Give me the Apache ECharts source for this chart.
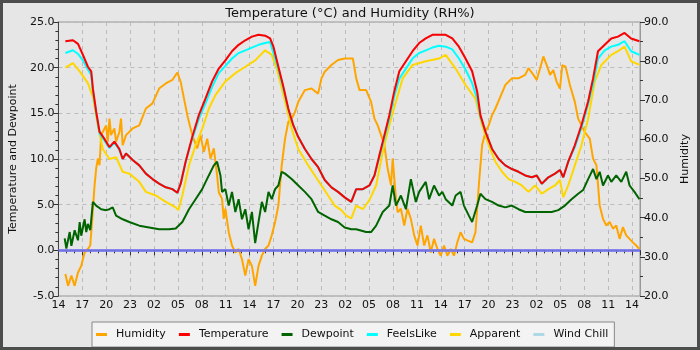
<!DOCTYPE html>
<html><head><meta charset="utf-8">
<script src="https://cdn.jsdelivr.net/npm/echarts@6/dist/echarts.min.js"></script>
<style>html,body{margin:0;padding:0;background:#e6e6e6;}#c{width:700px;height:350px;}</style>
</head><body><div id="c"></div>
<script>
// hours since 14:00 on day 1
const tempHours = [0.88,1.83,2.46,3.08,3.70,4.12,4.33,4.74,5.16,5.78,
6.41,7.03,7.65,8.07,8.49,9.32,10.15,10.98,11.81,12.64,
13.48,14.31,14.93,15.35,15.97,16.80,17.63,18.46,19.30,20.13,
20.96,21.79,22.62,23.46,24.29,25.12,25.95,26.57,26.99,27.61,
28.24,28.86,29.48,30.11,30.94,31.77,32.60,33.43,34.27,35.10,
35.93,36.76,37.38,38.21,39.04,39.67,40.29,40.92,41.54,42.16,
42.79,43.62,44.45,45.28,46.11,46.94,47.78,48.61,49.44,50.27,
51.10,51.93,52.56,52.97,53.60,54.43,55.26,56.09,56.92,57.75,
58.59,59.42,60.04,60.67,61.50,62.33,62.95,63.37,63.99,64.82,
65.65,66.49,67.11,67.73,68.57,69.40,70.23,71.06,71.89,72.93];
const temperature = [22.9,23.0,22.6,21.4,20.1,19.6,17.7,15.2,13.0,12.2,
11.3,11.9,11.1,10.0,10.6,9.9,9.3,8.4,7.8,7.3,
6.9,6.7,6.3,7.3,9.7,12.4,14.8,16.6,18.5,19.9,
20.8,21.8,22.5,23.0,23.4,23.6,23.5,23.2,22.3,20.1,
17.9,15.5,13.7,12.4,11.1,10.0,9.1,7.7,6.9,6.4,
5.8,5.3,6.7,6.7,7.1,8.2,10.4,12.6,14.8,17.4,
19.6,20.7,21.8,22.7,23.2,23.6,23.6,23.6,23.2,22.3,
21.0,19.6,17.4,14.8,13.0,11.1,10.0,9.3,8.9,8.6,
8.2,8.0,8.2,7.3,8.0,8.4,8.8,8.0,9.7,11.5,
13.7,16.3,18.8,21.8,22.5,23.2,23.4,23.8,23.2,22.9];
const feelsLike = [21.6,21.9,21.5,20.8,19.8,19.2,17.4,15.0,12.8,12.0,
11.2,11.8,11.0,10.0,10.6,9.9,9.3,8.4,7.8,7.3,
6.9,6.7,6.3,7.3,9.7,12.2,14.4,16.1,17.9,19.4,
20.2,21.0,21.6,21.9,22.2,22.5,22.7,22.8,21.6,19.8,
17.7,15.4,13.7,12.4,11.1,10.0,9.1,7.7,6.9,6.4,
5.8,5.3,6.7,6.7,7.1,8.2,10.2,12.3,14.4,16.9,
18.8,19.9,21.0,21.6,21.9,22.2,22.4,22.3,22.0,21.0,
19.8,18.3,16.6,14.6,13.0,11.1,10.0,9.3,8.9,8.6,
8.2,8.0,8.2,7.3,8.0,8.4,8.8,8.0,9.7,11.3,
13.4,16.0,18.2,21.0,21.9,22.3,22.5,22.9,21.8,21.4];
const windChill = temperature.slice();

const appHours = [0.88,1.83,2.67,3.70,4.33,4.95,5.57,6.41,7.24,8.07,
8.90,10.15,10.98,12.23,13.48,14.72,15.06,15.56,16.39,17.22,
18.05,18.88,19.71,20.96,22.21,23.46,24.70,25.95,26.78,27.41,
28.45,29.28,30.11,31.36,32.19,33.02,33.85,34.68,35.51,36.13,
36.76,37.38,38.21,39.04,39.88,40.71,41.54,42.37,43.20,44.45,
46.11,47.78,48.61,49.86,51.10,52.35,53.18,54.01,54.85,55.68,
56.51,57.34,58.17,59.00,59.83,60.67,61.50,62.33,62.95,63.37,
63.99,64.82,65.65,66.49,67.32,68.15,69.40,70.23,71.06,71.89,72.93];
const apparent = [20.0,20.5,19.6,18.3,16.8,13.7,11.1,10.0,10.2,8.6,
8.4,7.5,6.4,6.0,5.3,4.7,4.4,6.0,9.3,11.5,
13.3,15.5,17.0,18.5,19.4,20.1,20.8,21.9,21.4,19.9,
16.3,13.3,11.1,9.3,8.2,7.1,6.0,4.9,4.4,3.8,
3.5,4.9,4.5,5.5,7.1,10.8,13.7,16.3,18.8,20.3,
20.7,21.0,21.4,19.9,18.1,16.6,13.7,11.5,9.7,8.6,
7.8,7.5,7.1,6.4,7.1,6.2,6.7,7.1,7.7,5.8,
7.1,9.3,11.5,14.4,18.5,20.3,21.4,21.8,22.3,20.7,20.3];

const dewHours = [0.79,1.00,1.42,1.63,2.04,2.46,2.67,2.87,3.29,3.50,
3.70,4.00,4.33,4.74,5.37,5.99,6.41,6.82,7.24,8.07,
8.90,10.15,11.40,12.64,13.89,14.72,15.56,16.39,17.22,18.05,
18.88,19.51,19.92,20.34,20.54,20.96,21.38,21.79,22.21,22.62,
23.04,23.46,23.87,24.29,24.70,25.12,25.54,25.95,26.37,26.78,
27.20,27.61,28.03,28.45,29.28,30.11,30.94,31.77,32.60,33.43,
34.27,35.10,35.93,36.76,37.38,38.63,39.25,39.88,40.71,41.54,
41.96,42.37,42.99,43.62,44.24,44.86,45.28,46.11,46.53,47.15,
47.78,48.19,48.61,49.44,49.86,50.48,50.90,51.52,51.93,52.56,
52.97,53.60,54.43,55.26,56.09,56.92,57.75,58.59,59.42,60.25,
61.08,61.91,62.74,63.58,64.41,65.24,65.86,66.49,67.11,67.53,
67.94,68.36,68.98,69.40,70.02,70.65,71.27,71.69,72.31,72.93];
const dewpoint = [1.3,0.2,2.0,0.5,2.2,1.1,3.1,1.6,3.4,2.0,
2.9,2.2,5.3,4.9,4.5,4.4,4.5,4.7,3.8,3.4,
3.1,2.7,2.5,2.3,2.3,2.4,3.1,4.5,5.6,6.7,
8.2,9.3,9.7,8.2,6.4,6.7,4.9,6.4,4.2,5.6,
3.4,4.5,2.3,4.2,0.8,3.1,5.3,4.2,6.4,5.6,
6.7,7.1,8.6,8.4,7.8,7.1,6.4,5.6,4.2,3.8,
3.4,3.1,2.5,2.3,2.3,2.0,2.0,2.7,4.2,4.9,
7.1,4.9,6.0,4.5,7.8,5.3,6.4,7.5,5.6,7.1,
6.0,6.4,5.6,4.9,6.0,6.4,4.9,3.8,3.1,4.9,
6.2,5.6,5.3,4.9,4.7,4.9,4.5,4.2,4.2,4.2,
4.2,4.2,4.4,4.9,5.6,6.2,6.6,7.8,8.9,7.8,
8.6,7.1,8.2,7.5,8.2,7.5,8.6,7.1,6.4,5.6];

const humHours = [0.88,1.21,1.63,2.04,2.46,2.87,3.29,3.70,4.00,4.25,
4.54,4.74,4.95,5.16,5.37,5.57,5.99,6.20,6.41,6.61,
7.03,7.24,7.65,7.86,8.07,8.49,9.32,10.15,10.98,11.81,
12.64,13.48,14.31,14.93,15.35,15.76,16.18,16.80,17.43,17.84,
18.26,18.68,19.09,19.51,19.92,20.13,20.54,20.75,20.96,21.38,
21.79,22.21,22.62,23.04,23.46,23.87,24.29,24.70,25.12,25.54,
25.95,26.37,26.78,27.20,27.61,28.03,28.45,28.86,29.28,29.70,
30.11,30.94,31.77,32.60,33.02,33.43,34.27,35.10,35.93,36.13,
36.96,37.38,37.80,38.63,39.25,39.67,40.08,40.50,40.92,41.33,
41.75,41.96,42.37,42.58,42.99,43.41,43.82,44.24,44.66,45.07,
45.49,45.91,46.32,46.74,47.15,47.57,47.99,48.40,48.82,49.24,
49.65,50.07,50.48,50.90,51.32,51.93,52.35,52.77,53.18,53.60,
54.01,54.43,54.85,55.47,56.09,56.92,57.75,58.59,59.00,59.63,
60.04,60.46,60.87,61.29,61.71,62.12,62.54,62.95,63.25,63.66,
64.20,64.82,65.24,65.65,66.07,66.69,67.11,67.53,67.94,68.36,
68.77,69.19,69.61,70.02,70.44,70.86,71.27,71.69,72.10,72.52,72.93];
const humidity = [25.6,22.6,25.2,22.6,26.0,27.7,31.1,32.0,32.9,39.7,
48.3,52.5,55.1,53.4,61.1,61.9,63.6,59.4,65.3,61.1,
62.8,59.4,61.9,65.3,58.5,61.1,62.8,63.6,67.9,69.2,
73.0,74.3,75.2,77.1,74.7,70.5,66.2,61.1,57.7,61.1,
56.8,60.2,55.1,57.7,50.8,46.5,44.8,39.7,42.3,36.3,
32.9,31.1,32.0,29.4,25.2,29.4,27.7,22.6,27.7,30.3,
32.0,32.9,35.5,38.9,43.1,53.4,60.2,64.5,65.3,67.0,
69.6,72.6,73.0,71.7,75.6,77.3,79.0,80.3,80.7,81.2,
80.7,75.6,72.6,72.6,69.6,65.3,63.6,61.1,58.5,52.5,
48.3,55.1,44.8,41.4,42.3,38.0,42.3,39.7,35.5,32.9,
38.0,32.9,35.5,31.1,34.6,32.0,30.3,32.9,30.3,32.0,
30.3,33.7,36.3,34.6,34.2,33.7,36.3,48.3,58.5,61.9,
63.6,66.2,67.9,70.9,73.9,75.6,75.6,76.5,78.2,76.5,
75.2,78.2,81.2,79.0,76.5,77.7,74.7,73.0,79.0,78.6,
73.9,69.6,65.3,63.6,61.9,60.2,55.1,53.4,43.1,39.7,
38.0,38.9,37.2,38.0,34.6,37.6,35.5,34.6,33.7,32.9,32.0];

const seriesNames = ['Humidity','Temperature','Dewpoint','FeelsLike','Apparent','Wind Chill'];
const seriesColors = ['#ffa500','#ff0000','#006400','#00ffff','#ffd700','#add8e6'];
const startHour = 14;
const zeroLine = 0;

function pairs(h, v){ return h.map((x,i)=>[x, v[i]]); }
const FONT = 'DejaVu Sans';
const chart = echarts.init(document.getElementById('c'), null, {renderer:'canvas'});
function mk(name, data, yIdx, z, width){
  const i = seriesNames.indexOf(name);
  return {name, type:'line', data, yAxisIndex:yIdx, showSymbol:false, symbol:'none', z,
    lineStyle:{color:seriesColors[i], width:width||2}, itemStyle:{color:seriesColors[i]}, animation:false};
}
const wc = mk('Wind Chill', pairs(tempHours, windChill), 0, 3);
wc.markLine = {silent:true, symbol:['none','none'], z:2, label:{show:false},
  lineStyle:{color:'#7474ee', width:3, type:'solid', opacity:0.85},
  emphasis:{disabled:true}, data:[{yAxis:zeroLine, lineStyle:{color:'#7474ee', width:3, type:'solid'}}], animation:false};
chart.setOption({
  animation:false,
  backgroundColor:'#e6e6e6',
  textStyle:{fontFamily:FONT},
  title:{text:'Temperature (°C) and Humidity (RH%)', left:'center', top:2,
    textStyle:{fontFamily:FONT, fontSize:13, fontWeight:'normal', color:'#111'}},
  legend:{data:seriesNames, left:92, top:322, padding:[7,6,7,4], itemGap:13,
    icon:'rect', itemWidth:11, itemHeight:3, backgroundColor:'#f3f3f3', borderColor:'#888', borderWidth:1,
    textStyle:{fontFamily:FONT, fontSize:11, color:'#111', padding:[0,0,0,4]}},
  grid:{left:55, right:60, top:22, bottom:54, show:true, borderColor:'#999', borderWidth:1, backgroundColor:'transparent'},
  xAxis:{type:'value', min:0, max:73, interval:3,
    axisLine:{show:true, lineStyle:{color:'#666'}},
    axisTick:{show:true, length:5, lineStyle:{color:'#333'}},
    minorTick:{show:true, splitNumber:3, length:3, lineStyle:{color:'#333'}},
    axisLabel:{fontFamily:FONT, fontSize:11, color:'#111', margin:4,
      formatter:v=>{ if (Math.abs(v % 3) > 1e-6) return ''; return String((startHour + v) % 24).padStart(2,'0'); }},
    splitLine:{show:true, lineStyle:{color:'#bbb', type:[4,4], width:1}}},
  yAxis:[
    {type:'value', min:-5, max:25, interval:5, position:'left',
      name:'Temperature and Dewpoint', nameLocation:'middle', nameGap:36,
      nameTextStyle:{fontFamily:FONT, fontSize:11, color:'#111'},
      axisLine:{show:true, lineStyle:{color:'#444'}},
      axisTick:{show:true, length:5, lineStyle:{color:'#333'}},
      minorTick:{show:true, splitNumber:5, length:3, lineStyle:{color:'#333'}},
      axisLabel:{fontFamily:FONT, fontSize:11, color:'#111', margin:4, formatter:v=>v.toFixed(1)},
      splitLine:{show:true, lineStyle:{color:'#bbb', type:[4,4], width:1}}},
    {type:'value', min:20, max:90, interval:10, position:'right',
      name:'Humidity', nameLocation:'middle', nameGap:38,
      nameTextStyle:{fontFamily:FONT, fontSize:11, color:'#111'},
      axisLine:{show:true, lineStyle:{color:'#999'}},
      axisTick:{show:true, length:5, lineStyle:{color:'#333'}},
      minorTick:{show:true, splitNumber:2, length:3, lineStyle:{color:'#333'}},
      axisLabel:{fontFamily:FONT, fontSize:11, color:'#111', margin:4, formatter:v=>v.toFixed(1)},
      splitLine:{show:false}}
  ],
  graphic:[{type:'rect', silent:true, z:100, shape:{x:1.5, y:1.5, width:697, height:347},
    style:{fill:null, stroke:'#4d4d4d', lineWidth:3}}],
  series:[
    mk('Humidity', pairs(humHours, humidity), 1, 1, 2),
    mk('Temperature', pairs(tempHours, temperature), 0, 7),
    mk('Dewpoint', pairs(dewHours, dewpoint), 0, 6),
    mk('FeelsLike', pairs(tempHours, feelsLike), 0, 5),
    mk('Apparent', pairs(appHours, apparent), 0, 4),
    wc
  ]
});
</script></body></html>
